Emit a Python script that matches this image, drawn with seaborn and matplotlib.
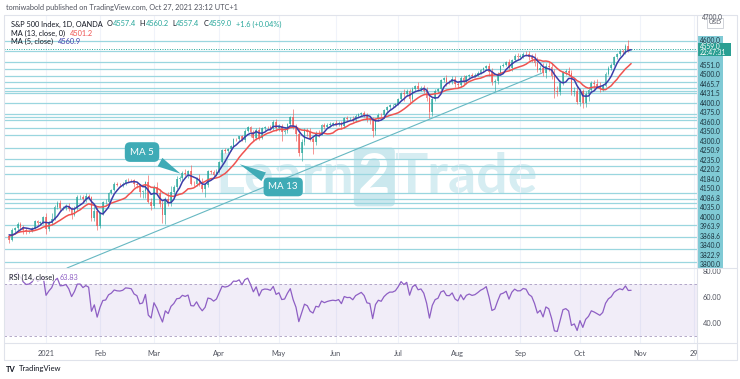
import numpy as np
import pandas as pd
import matplotlib
matplotlib.use("Agg")
import matplotlib.pyplot as plt
from matplotlib.lines import Line2D
import seaborn as sns

# closes before the visible window (only used to warm up MA / RSI)
prior_closes = [3585, 3627, 3610, 3568, 3582, 3558, 3578, 3635, 3629, 3638,
                3622, 3662, 3669, 3667, 3699, 3692, 3702, 3673, 3668, 3663]

# daily closes, 14 Dec 2020 -> 27 Oct 2021
closes = [
    3647, 3695, 3702, 3722, 3709, 3695, 3687, 3690, 3703, 3735, 3727, 3732, 3756,
    3700, 3726, 3748, 3804, 3825, 3799, 3801, 3809, 3795, 3768, 3798, 3852, 3853, 3841, 3855, 3850, 3751, 3787, 3714,
    3774, 3826, 3830, 3872, 3887, 3915, 3911, 3910, 3916, 3934, 3933, 3931, 3913, 3907, 3877, 3881, 3925, 3829, 3811,
    3901, 3870, 3820, 3768, 3842, 3821, 3875, 3898, 3939, 3943, 3969, 3963, 3974, 3915, 3913, 3941, 3911, 3889, 3910, 3975, 3971, 3959, 3973,
    4020, 4078, 4074, 4080, 4097, 4129, 4128, 4142, 4125, 4170, 4185, 4163, 4135, 4173, 4135, 4180, 4188, 4187, 4183, 4211, 4181,
    4192, 4165, 4168, 4202, 4233, 4189, 4153, 4063, 4113, 4174, 4164, 4128, 4116, 4160, 4156, 4197, 4188, 4196, 4201, 4204,
    4202, 4208, 4192, 4230, 4226, 4227, 4219, 4239, 4247, 4255, 4246, 4224, 4222, 4166, 4224, 4246, 4242, 4266, 4281, 4291, 4291, 4298,
    4320, 4352, 4344, 4358, 4321, 4370, 4385, 4369, 4374, 4361, 4327, 4259, 4323, 4359, 4368, 4412, 4422, 4402, 4401, 4419, 4395,
    4387, 4423, 4403, 4429, 4437, 4432, 4436, 4447, 4460, 4468, 4480, 4449, 4400, 4406, 4442, 4480, 4486, 4497, 4470, 4509, 4529, 4523,
    4524, 4537, 4535, 4520, 4514, 4493, 4459, 4469, 4443, 4481, 4474, 4433, 4358, 4354, 4396, 4449, 4455, 4443, 4353, 4360, 4308,
    4357, 4301, 4346, 4364, 4399, 4391, 4380, 4370, 4385, 4440, 4471, 4486, 4520, 4537, 4549, 4545, 4575, 4557.4, 4559,
]
# wick extensions above / below the candle body (points)
wick_up = [
    8, 10, 6, 9, 12, 7, 10, 6, 5, 9, 8, 7, 6,
    20, 10, 25, 8, 6, 12, 9, 10, 14, 8, 12, 9, 10, 7, 18, 12, 9, 20, 15,
    8, 7, 12, 6, 5, 8, 9, 7, 10, 6, 8, 7, 9, 10, 8, 6, 5, 30, 20,
    8, 25, 22, 15, 12, 35, 30, 10, 12, 8, 6, 15, 8, 30, 15, 8, 20, 30, 10, 6, 8, 10, 12,
    6, 4, 8, 5, 3, 5, 6, 4, 6, 5, 6, 5, 10, 8, 15, 6, 5, 6, 10, 8, 12,
    8, 10, 20, 5, 6, 40, 10, 25, 15, 6, 10, 20, 10, 8, 12, 6, 10, 8, 10, 9,
    15, 6, 10, 5, 8, 6, 12, 8, 6, 5, 8, 10, 15, 12, 6, 8, 10, 5, 6, 8, 6, 5,
    5, 4, 15, 10, 10, 6, 5, 15, 10, 12, 18, 20, 6, 8, 6, 4, 6, 15, 10, 12, 10,
    10, 6, 15, 6, 5, 8, 10, 6, 5, 4, 5, 15, 20, 10, 6, 5, 6, 5, 15, 5, 6, 10,
    10, 8, 12, 15, 15, 25, 30, 15, 25, 12, 15, 20, 30, 25, 15, 8, 10, 20, 15, 20, 25,
    15, 10, 15, 15, 10, 15, 25, 20, 10, 10, 6, 8, 6, 5, 10, 10, 10, 30, 1.2,
]
wick_dn = [
    15, 8, 10, 6, 14, 20, 12, 8, 6, 5, 9, 7, 8,
    25, 12, 10, 8, 10, 15, 8, 12, 10, 20, 9, 8, 10, 12, 15, 10, 15, 14, 20,
    10, 8, 6, 9, 7, 5, 8, 9, 10, 7, 10, 8, 15, 10, 25, 30, 35, 8, 22,
    10, 8, 15, 40, 45, 10, 12, 15, 8, 12, 10, 12, 20, 8, 10, 9, 8, 15, 35, 12, 10, 8, 6,
    8, 6, 10, 12, 8, 6, 10, 8, 7, 9, 5, 25, 15, 8, 12, 7, 10, 8, 9, 10, 15,
    15, 45, 12, 10, 8, 10, 35, 15, 40, 12, 20, 10, 60, 15, 18, 8, 10, 6, 8, 7,
    8, 10, 15, 8, 10, 7, 10, 8, 5, 8, 10, 12, 20, 25, 15, 6, 8, 10, 7, 9, 8, 6,
    8, 6, 35, 10, 25, 8, 10, 8, 12, 10, 15, 30, 20, 10, 8, 6, 8, 20, 10, 8, 15,
    15, 10, 12, 8, 9, 10, 8, 6, 8, 9, 10, 20, 10, 40, 15, 8, 8, 6, 5, 15, 8, 10,
    8, 6, 8, 12, 15, 15, 10, 10, 12, 20, 18, 15, 30, 20, 15, 10, 12, 12, 15, 20, 10,
    20, 25, 20, 35, 10, 20, 8, 15, 10, 8, 6, 10, 8, 6, 12, 10, 8, 12, 0,
]

month_ticks = [0, 19, 38, 61, 82, 102, 124, 145, 167, 188, 209, 228]
month_labels = ["2021", "Feb", "Mar", "Apr", "May", "Jun", "Jul", "Aug", "Sep", "Oct", "Nov", "29"]

level_prices = [4600, 4551, 4500, 4465.7, 4431.5, 4400, 4375, 4360, 4350, 4300, 4250.9, 4235,
                4220.2, 4184, 4150, 4086.8, 4035, 4000, 3963.9, 3868.6, 3840, 3822.9, 3800]
level_labels = ["4600.0", "4551.0", "4500.0", "4465.7", "4431.5", "4400.0", "4375.0", "4360.0",
                "4350.0", "4300.0", "4250.9", "4235.0", "4220.2", "4184.0", "4150.0", "4086.8",
                "4035.0", "4000.0", "3963.9", "3868.6", "3840.0", "3822.9", "3800.0"]
extra_levels = [3720, 3662, 3603, 3540]
current_price = 4559.0

trend_idx = [7.4, 174.6]
trend_px = [3512, 4445]

W, H = 740, 379
sns.set_style("white")
plt.rcParams["font.family"] = ["Lato", "DejaVu Sans"]

fig = plt.figure(figsize=(W / 100, H / 100), dpi=100)
ax = fig.add_axes([4 / W, 1 - 268 / H, 693 / W, 253 / H])
axr = fig.add_axes([4 / W, 1 - 343 / H, 693 / W, 75 / H], sharex=ax)

n_prior = len(prior_closes)
idx = np.arange(len(closes)) - 13
c = np.array(closes, dtype=float)
o = np.array([prior_closes[-1]] + closes[:-1], dtype=float)
hi = np.maximum(o, c) + np.array(wick_up)
lo = np.minimum(o, c) - np.array(wick_dn)
colors = np.where(c >= o, "#26a69a", "#ef5350")

allc = pd.Series(prior_closes + closes, dtype=float)
ma5 = allc.rolling(5).mean().iloc[n_prior:].to_numpy()
ma13 = allc.rolling(13).mean().iloc[n_prior:].to_numpy()
d = allc.diff()
gain = d.clip(lower=0).ewm(alpha=1 / 14, adjust=False).mean()
loss = (-d.clip(upper=0)).ewm(alpha=1 / 14, adjust=False).mean()
rsi = (100 - 100 / (1 + gain / loss)).iloc[n_prior:].to_numpy()

# main pane
ax.set_xlim(-14.8, 229.2)
ax.set_ylim(3512, 4723)
line_col = "#9ad6df"
ax.hlines(level_prices + extra_levels, -14.8, 229.2, color=line_col, lw=0.9, zorder=1)
ax.axhline(current_price, color="#26a69a", lw=0.7, ls=(0, (1, 1.5)), zorder=1)
sns.lineplot(x=trend_idx, y=trend_px, color="#67b8c2", lw=0.8, ax=ax, zorder=2)

# Learn2Trade watermark
r = fig.canvas.get_renderer()
wx = 0.305
for s, col, box in [("Learn", "#d6edf2", None), ("2", "white", "#cbe8ee"), ("Trade", "#d6edf2", None)]:
    kw = {}
    if box:
        kw["bbox"] = dict(boxstyle="round,pad=0.08", fc=box, ec="none")
    t = ax.text(wx, 0.36, s, transform=ax.transAxes, fontsize=40, fontweight="bold",
                color=col, ha="left", va="center", zorder=0, **kw)
    wx += t.get_window_extent(renderer=r).width / 693 + 0.006

ax.vlines(idx, lo, hi, colors=colors, lw=0.6, alpha=0.7, zorder=3)
ax.bar(idx, np.maximum(np.abs(c - o), 1.5), bottom=np.minimum(o, c), width=0.62,
       color=colors, alpha=0.7, lw=0, zorder=3)
sns.lineplot(x=idx, y=ma13, color="#ef5350", lw=1.1, ax=ax, zorder=4)
sns.lineplot(x=idx, y=ma5, color="#3c3ca8", lw=1.1, ax=ax, zorder=5)

callout = "#3fabb6"
ax.annotate("MA 5", xy=(48.2, 3957), xytext=(33.8, 4067), color="white", fontsize=7,
            ha="center", va="center", zorder=6,
            bbox=dict(boxstyle="round,pad=0.55", fc=callout, ec="none"),
            arrowprops=dict(arrowstyle="wedge,tail_width=1.0", fc=callout, ec="none"))
ax.annotate("MA 13", xy=(67.3, 4015), xytext=(83.5, 3900), color="white", fontsize=7,
            ha="center", va="center", zorder=6,
            bbox=dict(boxstyle="round,pad=0.5", fc=callout, ec="none"),
            arrowprops=dict(arrowstyle="wedge,tail_width=1.0", fc=callout, ec="none"))

ax.set_xticks(month_ticks)
ax.grid(axis="x", color="#f0f3fa", lw=0.8)
ax.tick_params(labelbottom=False, length=0)
ax.set_yticks([])

# RSI pane
axr.set_ylim(24.6, 82.3)
axr.axhspan(30, 70, color="#7e57c2", alpha=0.1, lw=0)
for lvl in (70, 30):
    axr.axhline(lvl, color="#a89bc0", lw=0.6, ls=(0, (3, 3)))
sns.lineplot(x=idx, y=rsi, color="#8e5fc4", lw=0.9, ax=axr)
axr.set_xticks(month_ticks, month_labels)
axr.grid(axis="x", color="#f0f3fa", lw=0.8)
axr.set_yticks([40, 60, 80], ["40.00", "60.00", "80.00"])
axr.yaxis.tick_right()
axr.tick_params(axis="y", length=0, pad=4, labelsize=5.3, labelcolor="#50535e")
axr.tick_params(axis="x", length=0, pad=5, labelsize=5.3, labelcolor="#50535e")
for a in (ax, axr):
    for s in a.spines.values():
        s.set_visible(False)


def fline(x0, y0, x1, y1, col="#e0e3eb", lw=0.8):
    fig.add_artist(Line2D([x0 / W, x1 / W], [1 - y0 / H, 1 - y1 / H], color=col, lw=lw, zorder=6))


def frect(x0, y0, x1, y1, fc, ec="none", z=5):
    fig.add_artist(plt.Rectangle((x0 / W, 1 - y1 / H), (x1 - x0) / W, (y1 - y0) / H,
                                 transform=fig.transFigure, fc=fc, ec=ec, lw=0.6, zorder=z))


def ftext(x, y, s, col="#131722", size=5.3, **kw):
    return fig.text(x / W, 1 - y / H, s, color=col, fontsize=size, va="center", zorder=8, **kw)


def text_run(x, y, parts, size=5.3, bg=False):
    for s, col, gap in parts:
        kw = {}
        if bg:
            kw["bbox"] = dict(boxstyle="square,pad=0.1", fc="white", ec="none", alpha=0.8)
        t = ftext(x, y, s, col, size, **kw)
        x += t.get_window_extent(renderer=r).width + gap


# clip x labels under price scale
frect(697.5, 344, 736.5, 359.5, "white", z=4)

# price scale labels (stacked the TradingView way)
def to_py(p):
    return H - ax.transData.transform((0, p))[1]


label_col = "#80cad5"
y_first = to_py(level_prices[0])
frect(697, y_first - 4.8, 723, 268, label_col)
ftext(710, y_first, level_labels[0], "#1c3440", 4.8, ha="center")
cur_y = to_py(current_price)
prev = cur_y + 6.5
for p, lab in zip(level_prices[1:], level_labels[1:]):
    y = max(to_py(p), prev + 9.5)
    prev = y
    if y < 266.5:
        ftext(710, y, lab, "#1c3440", 4.8, ha="center")
frect(697, cur_y - 6.5, 731, cur_y + 6.5, "#2a9f93")
ftext(710, cur_y - 3, "4559.0", "white", 4.8, ha="center")
ftext(713, cur_y + 3.3, "22:47:31", "white", 4.8, ha="center")

ftext(712, to_py(4700) - 2, "4700.0", "#50535e", 4.8, ha="center")
frect(707, 18, 723, 28, "white", ec="#c9ccd3", z=6)
ftext(715, 23, "USD", "#50535e", 4.6, ha="center")

# frame and pane separators
fline(4, 15, 737, 15)
fline(4, 360, 737, 360)
fline(4, 15, 4, 360)
fline(737, 15, 737, 360)
fline(697, 15, 697, 360)
fline(4, 268, 737, 268)
fline(4, 343, 737, 343)

# header / legends
ftext(6, 7, "tomiwabold published on TradingView.com, Oct 27, 2021 23:12 UTC+1", "#50535e")
teal = "#26a69a"
text_run(11, 24, [("S&P 500 Index, 1D, OANDA", "#131722", 4), ("O", "#131722", 0), ("4557.4", teal, 4),
                  ("H", "#131722", 0), ("4560.2", teal, 4), ("L", "#131722", 0), ("4557.4", teal, 4),
                  ("C", "#131722", 0), ("4559.0", teal, 4), ("+1.6 (+0.04%)", teal, 0)])
text_run(11, 33, [("MA (13, close, 0)", "#131722", 5), ("4501.2", "#ef5350", 0)])
text_run(11, 41.5, [("MA (5, close)", "#131722", 5), ("4560.9", "#3c3ca8", 0)])
text_run(9, 277, [("RSI (14, close)", "#131722", 5), ("63.83", "#8e5fc4", 0)], bg=True)

ftext(6, 369, "TV", "#131722", 5.5, fontweight="bold")
ftext(19, 369, "TradingView", "#131722", 5.5)

fig.savefig("out.png", dpi=100, facecolor="white")
